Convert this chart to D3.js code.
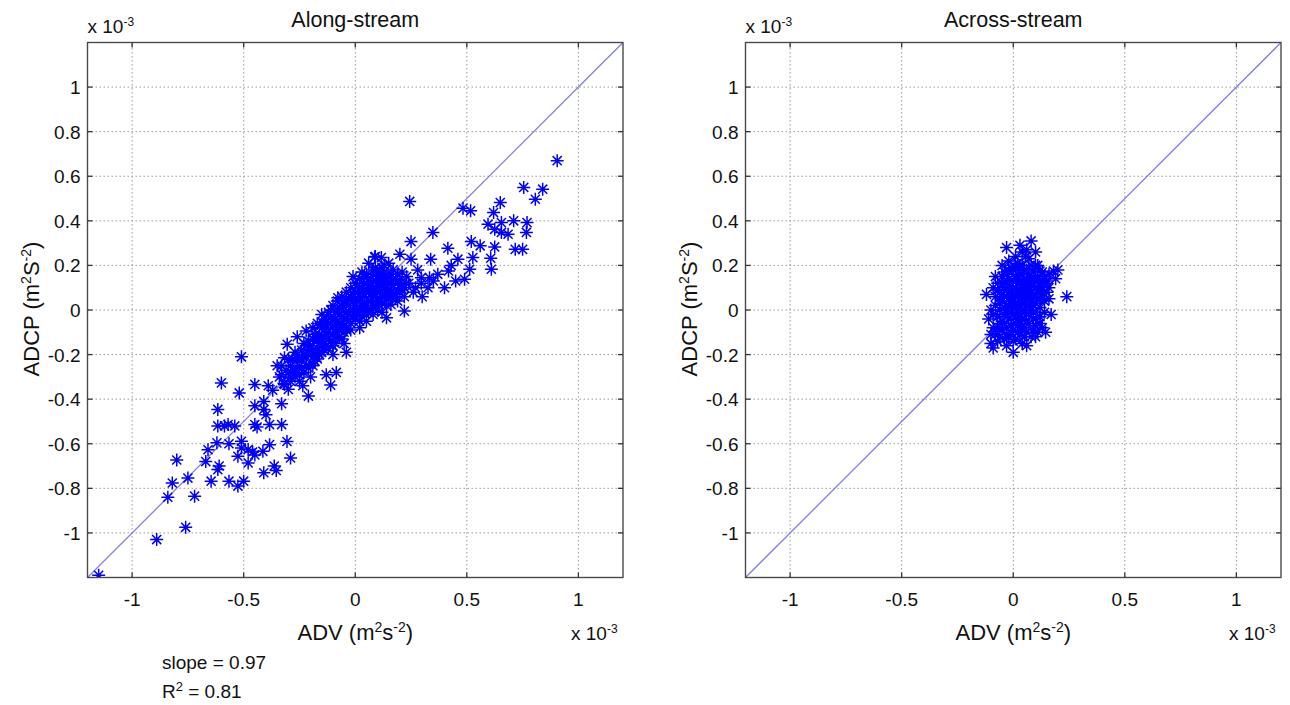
<!DOCTYPE html>
<html>
<head>
<meta charset="utf-8">
<script src="https://cdn.jsdelivr.net/npm/d3@7"></script>
<style>
  body { margin: 0; background: #fff; }
  text { font-family: "Liberation Sans", Arial, sans-serif; fill: #111; }
</style>
</head>
<body>
<svg width="1290" height="705"></svg>
<script>
// tick values / labels (units of 1e-3)
var xTicks = [-1, -0.5, 0, 0.5, 1];
var xTickLabels = ["-1", "-0.5", "0", "0.5", "1"];
var yTicks = [-1, -0.8, -0.6, -0.4, -0.2, 0, 0.2, 0.4, 0.6, 0.8, 1];
var yTickLabels = ["-1", "-0.8", "-0.6", "-0.4", "-0.2", "0", "0.2", "0.4", "0.6", "0.8", "1"];
var axisDomain = [-1.2, 1.2];
var oneToOne = [-1.2, 1.2];

var panelTitles = ["Along-stream", "Across-stream"];
var statsLines = ["slope = 0.97", "R2 = 0.81"];

// Along-stream: [ADV, ADCP] x 1e-3
var alongPoints = [
  [-1.15,-1.19],[-0.89,-1.03],[-0.76,-0.975],[-0.84,-0.84],[-0.72,-0.835],[-0.75,-0.754],[-0.82,-0.776],
  [-0.80,-0.673],[-0.67,-0.68],[-0.66,-0.627],[-0.616,-0.716],[-0.61,-0.70],[-0.646,-0.768],[-0.566,-0.768],
  [-0.526,-0.79],[-0.50,-0.768],[-0.41,-0.73],[-0.354,-0.72],[-0.363,-0.70],[-0.29,-0.664],[-0.306,-0.59],
  [-0.384,-0.604],[-0.414,-0.634],[-0.45,-0.65],[-0.48,-0.686],[-0.526,-0.656],[-0.51,-0.619],[-0.48,-0.626],
  [-0.46,-0.637],[-0.51,-0.589],[-0.566,-0.60],[-0.62,-0.596],[-0.616,-0.52],[-0.586,-0.52],[-0.57,-0.514],
  [-0.54,-0.52],[-0.616,-0.446],[-0.52,-0.372],[-0.60,-0.327],[-0.45,-0.43],[-0.45,-0.514],[-0.44,-0.525],
  [-0.41,-0.41],[-0.41,-0.446],[-0.40,-0.47],[-0.384,-0.514],[-0.33,-0.42],[-0.33,-0.514],[-0.45,-0.334],
  [-0.39,-0.34],[-0.317,-0.334],[-0.30,-0.356],[-0.235,-0.34],[-0.21,-0.386],[-0.11,-0.337],[-0.51,-0.21],
  [-0.305,-0.154],[-0.33,-0.29],[-0.317,-0.214],[-0.27,-0.23],[-0.257,-0.20],[-0.22,-0.094],[-0.18,-0.11],
  [-0.13,-0.29],[-0.085,-0.28],[-0.04,-0.19],[-0.16,-0.16],[-0.24,-0.26],[-0.29,-0.32],[-0.20,-0.30],
  [-0.26,-0.12],[-0.35,-0.25],[-0.28,-0.27],[-0.37,-0.36],[-0.25,-0.32],
  [-0.30,-0.28],[-0.28,-0.22],[-0.27,-0.30],[-0.25,-0.25],[-0.24,-0.18],[-0.23,-0.28],[-0.22,-0.21],
  [-0.21,-0.14],[-0.20,-0.24],[-0.19,-0.18],[-0.18,-0.12],[-0.17,-0.22],[-0.16,-0.15],[-0.15,-0.08],
  [-0.15,-0.19],[-0.14,-0.12],[-0.13,-0.05],[-0.13,-0.16],[-0.12,-0.10],[-0.11,-0.03],[-0.11,-0.14],
  [-0.10,-0.07],[-0.09,-0.01],[-0.09,-0.12],[-0.08,-0.05],[-0.07,0.01],[-0.07,-0.09],[-0.06,-0.03],
  [-0.05,0.03],[-0.05,-0.07],[-0.04,-0.01],[-0.03,0.05],[-0.03,-0.05],[-0.02,0.00],[-0.01,0.07],
  [-0.01,-0.03],[0.00,0.02],[0.01,0.08],[0.01,-0.02],[0.02,0.04],[0.03,0.10],[0.03,0.00],[0.04,0.06],
  [0.05,0.12],[0.05,0.02],[0.06,0.08],[0.07,0.14],[0.07,0.04],[0.08,0.10],[0.09,0.16],[0.09,0.06],
  [0.10,0.12],[0.11,0.18],[0.11,0.08],[0.12,0.14],[0.13,0.10],[0.14,0.16],[0.15,0.12],[0.17,0.18],
  [0.13,0.20],[0.02,-0.08],[0.05,-0.05],[0.08,-0.02],[0.10,0.00],[-0.05,-0.15],[-0.10,-0.20],[0.12,0.03],
  [0.15,0.05],[0.18,0.07],[0.20,0.08],
  [-0.20,-0.16],[-0.19,-0.08],[-0.18,-0.20],[-0.17,-0.06],[-0.16,-0.11],[-0.15,-0.02],[-0.14,-0.18],
  [-0.13,-0.08],[-0.12,-0.01],[-0.12,-0.13],[-0.11,-0.06],[-0.10,0.02],[-0.10,-0.16],[-0.09,-0.04],
  [-0.08,0.04],[-0.08,-0.10],[-0.07,-0.02],[-0.06,0.06],[-0.06,-0.13],[-0.05,0.00],[-0.04,0.08],
  [-0.04,-0.09],[-0.03,0.02],[-0.02,0.10],[-0.02,-0.06],[-0.01,0.04],[0.00,0.12],[0.00,-0.04],[0.01,0.00],
  [0.02,0.14],[0.02,0.06],[0.03,-0.03],[0.04,0.09],[0.04,0.02],[0.05,0.16],[0.06,0.04],[0.06,-0.01],
  [0.07,0.11],[0.08,0.18],[0.08,0.06],[0.09,0.01],[0.10,0.14],[0.10,0.09],[0.11,0.04],[0.12,0.19],
  [0.12,0.11],[0.13,0.06],[0.14,0.13],[0.15,0.09],[0.16,0.16],[0.17,0.11],[0.18,0.06],[0.18,0.14],
  [0.20,0.10],[0.21,0.17],[0.22,0.06],[0.24,0.12],[0.27,0.10],[0.06,0.21],[0.03,0.17],[-0.01,0.15],
  [0.15,0.21],[0.09,0.24],
  [-0.29,-0.25],[-0.27,-0.19],[-0.26,-0.27],[-0.24,-0.22],[-0.23,-0.15],[-0.22,-0.25],[-0.21,-0.19],
  [-0.19,-0.13],[-0.18,-0.23],[-0.17,-0.17],[-0.16,-0.07],[-0.15,-0.13],[-0.14,-0.04],[-0.13,-0.11],
  [-0.12,-0.06],[-0.11,0.00],[-0.10,-0.11],[-0.09,-0.07],[-0.08,-0.01],[-0.07,-0.06],[-0.06,0.02],
  [-0.05,-0.10],[-0.04,0.04],[-0.03,-0.02],[-0.02,0.06],[-0.01,0.00],[0.00,0.08],[0.01,0.04],[0.02,0.10],
  [0.03,0.02],[0.04,0.12],[0.05,0.08],[0.06,0.14],[0.07,0.00],[0.08,0.13],[0.09,0.09],[0.10,0.17],
  [0.11,0.12],[0.12,0.07],[0.13,0.15],[0.14,0.08],[0.16,0.12],[0.17,0.07],[0.19,0.12],[0.21,0.09],
  [0.23,0.15],
  [-0.34,-0.30],[-0.33,-0.25],[-0.32,-0.33],[-0.31,-0.27],[-0.30,-0.22],[-0.29,-0.30],[-0.26,-0.22],
  [-0.25,-0.29],[-0.23,-0.20],[-0.22,-0.16],[-0.21,-0.26],[-0.20,-0.20],[-0.19,-0.25],[-0.17,-0.13],
  [-0.16,-0.20],[-0.14,-0.15],[-0.12,-0.17],[-0.09,-0.15],[-0.07,-0.12],[-0.06,-0.08],[-0.04,-0.04],
  [-0.02,-0.09],[0.00,-0.01],[0.01,0.11],[0.02,-0.05],[0.04,0.15],[0.04,-0.01],[0.06,0.11],[0.07,0.07],
  [0.08,0.02],[0.09,0.19],[0.10,0.05],[0.11,0.15],[0.12,-0.01],[0.13,0.12],[0.14,0.02],[0.16,0.08],
  [0.17,0.14],[0.19,0.04],[0.20,0.13],[0.22,0.10],
  [0.905,0.67],[0.755,0.55],[0.84,0.542],[0.807,0.497],[0.244,0.487],[0.65,0.482],[0.62,0.437],
  [0.483,0.457],[0.517,0.445],[0.595,0.385],[0.655,0.392],[0.71,0.40],[0.77,0.392],[0.625,0.362],
  [0.655,0.348],[0.685,0.34],[0.767,0.348],[0.348,0.348],[0.25,0.307],[0.415,0.277],[0.52,0.307],
  [0.56,0.288],[0.625,0.283],[0.717,0.272],[0.75,0.272],[0.527,0.235],[0.607,0.232],[0.61,0.183],
  [0.46,0.228],[0.513,0.183],[0.49,0.138],[0.338,0.228],[0.418,0.175],[0.37,0.16],[0.333,0.145],
  [0.296,0.145],[0.326,0.10],[0.40,0.10],[0.296,0.12],[0.117,0.235],[0.20,0.25],[0.25,0.228],
  [-0.078,0.055],[0.22,-0.005],[0.14,-0.035],[0.16,0.025],[0.087,0.238],[0.19,0.16],[0.23,0.12],
  [0.26,0.08],[0.28,0.18],[0.30,0.06],[0.35,0.13],[0.45,0.13],[0.43,0.20]
];

// Across-stream: [ADV, ADCP] x 1e-3
var acrossPoints = [
  [-0.09,-0.17],[-0.11,-0.04],[0.18,0.175],[0.12,0.175],[-0.03,0.28],[0.03,0.29],[0.08,0.31],
  [0.055,0.24],[-0.055,0.06],[-0.03,-0.11],[0.10,-0.12],[0.145,-0.10],[0.00,-0.19],[0.24,0.06],
  [-0.12,0.07],[0.20,0.18],[-0.10,-0.15],[0.06,-0.16],[0.15,0.12],[0.16,0.05],[-0.08,0.15],
  [-0.05,0.20],[0.10,0.26],[0.04,0.26],[-0.02,0.22],[0.12,-0.06],[0.17,-0.02],[-0.07,-0.08],
  [-0.06,0.00],[-0.05,0.04],[-0.05,-0.05],[-0.04,0.10],[-0.04,-0.02],[-0.03,0.06],[-0.03,-0.08],
  [-0.02,0.02],[-0.02,0.14],[-0.02,-0.04],[-0.01,0.08],[-0.01,-0.10],[0.00,0.04],[0.00,0.18],
  [0.00,-0.02],[0.01,0.10],[0.01,-0.06],[0.02,0.00],[0.02,0.14],[0.02,0.06],[0.03,-0.03],[0.03,0.20],
  [0.03,0.09],[0.04,0.03],[0.04,-0.08],[0.04,0.16],[0.05,0.06],[0.05,-0.01],[0.05,0.12],[0.06,0.02],
  [0.06,0.09],[0.06,-0.05],[0.07,0.15],[0.07,0.05],[0.08,0.00],[0.08,0.11],[0.08,0.20],[0.09,0.07],
  [0.09,-0.04],[0.10,0.03],[0.10,0.14],[0.11,0.09],[0.12,0.01],[0.12,0.12],[0.13,0.06],[0.14,0.15],
  [0.14,-0.01],[-0.07,0.09],[-0.08,0.02],[-0.09,-0.02],[-0.06,-0.12],[0.00,-0.14],[0.05,-0.12],
  [0.09,-0.09],[-0.04,0.17],[0.01,0.24],[0.06,0.27],[0.11,0.20],[0.16,0.10],[0.19,0.14],[-0.01,0.03],
  [0.02,-0.10],
  [-0.06,0.03],[-0.05,0.12],[-0.04,0.06],[-0.03,0.00],[-0.03,0.12],[-0.02,0.08],[-0.01,-0.01],
  [-0.01,0.12],[0.00,0.07],[0.00,0.10],[0.01,0.02],[0.01,0.15],[0.02,0.09],[0.02,0.03],[0.03,0.05],
  [0.03,0.13],[0.04,0.00],[0.04,0.11],[0.05,0.03],[0.05,0.09],[0.06,0.13],[0.06,0.06],[0.07,0.02],
  [0.07,0.09],[0.08,0.04],[0.08,0.14],[0.09,0.11],[0.10,0.07],[0.11,0.05],[0.12,0.09],[0.13,0.12],
  [0.14,0.04],[0.15,0.08],[-0.07,-0.03],[-0.04,-0.06],[0.01,-0.03],[0.03,-0.06],[0.07,-0.02],
  [0.11,-0.03],[-0.02,0.18],[0.05,0.18],[0.09,0.17],[0.02,0.21],[0.07,0.23],
  [-0.08,0.06],[-0.07,0.12],[-0.06,0.08],[-0.06,-0.06],[-0.05,0.15],[-0.04,0.01],[-0.03,0.09],
  [-0.03,0.16],[-0.02,-0.01],[-0.01,0.06],[-0.01,0.19],[0.00,0.01],[0.00,0.13],[0.01,0.06],[0.01,0.19],
  [0.02,0.12],[0.02,-0.04],[0.03,0.02],[0.03,0.16],[0.04,0.06],[0.04,0.20],[0.05,0.00],[0.05,0.14],
  [0.06,0.11],[0.06,0.18],[0.07,0.07],[0.07,0.12],[0.08,0.08],[0.09,0.02],[0.09,0.14],[0.10,0.10],
  [0.10,0.20],[0.11,0.14],[0.12,0.05],[0.13,0.09],[0.13,0.17],[0.15,0.13],[0.16,0.16],[-0.09,0.10],
  [-0.10,0.00],
  [-0.08,-0.11],[-0.07,-0.14],[-0.05,-0.09],[-0.04,-0.13],[-0.02,-0.12],[-0.01,-0.07],[0.00,-0.09],
  [0.01,-0.13],[0.02,-0.07],[0.03,-0.11],[0.04,-0.04],[0.05,-0.08],[0.06,-0.10],[0.07,-0.06],
  [0.08,-0.12],[0.09,-0.01],[0.10,-0.07],[0.11,-0.10],[0.12,-0.03],[0.13,-0.08],[-0.09,-0.08],
  [-0.10,-0.11],[0.04,-0.15],[-0.03,-0.16]
];

var svg = d3.select("svg");

// MATLAB style '*' marker
function starPath(r) {
  var d = r * 0.7;
  return "M" + (-r) + ",0H" + r + "M0," + (-r) + "V" + r +
    "M" + (-d) + "," + (-d) + "L" + d + "," + d +
    "M" + (-d) + "," + d + "L" + d + "," + (-d);
}

// text with superscripts: parts = [[str, isSup], ...]
function richText(sel, parts, supSize) {
  parts.forEach(function (p) {
    var t = sel.append("tspan").text(p[0]);
    if (p[1]) {
      t.attr("font-size", supSize).attr("baseline-shift", "super");
    }
  });
  return sel;
}

function drawPanel(left, right, points, title, idx) {
  var x = d3.scaleLinear().domain(axisDomain).range([left, right]);
  var y = d3.scaleLinear().domain(axisDomain).range([577.5, 42.5]);
  var g = svg.append("g");
  var clipId = "clip" + idx;

  g.append("clipPath").attr("id", clipId)
    .append("rect")
    .attr("x", left).attr("y", 42.5)
    .attr("width", right - left).attr("height", 535);

  // grid
  g.selectAll(".gx").data(xTicks).enter().append("line")
    .attr("x1", d => x(d)).attr("x2", d => x(d))
    .attr("y1", y(axisDomain[0])).attr("y2", y(axisDomain[1]))
    .attr("stroke", "#9a9a9a").attr("stroke-width", 1)
    .attr("stroke-dasharray", "1.5,2.5");
  g.selectAll(".gy").data(yTicks).enter().append("line")
    .attr("y1", d => y(d)).attr("y2", d => y(d))
    .attr("x1", left).attr("x2", right)
    .attr("stroke", "#9a9a9a").attr("stroke-width", 1)
    .attr("stroke-dasharray", "1.5,2.5");

  // 1:1 line
  g.append("line")
    .attr("clip-path", "url(#" + clipId + ")")
    .attr("x1", x(oneToOne[0])).attr("y1", y(oneToOne[0]))
    .attr("x2", x(oneToOne[1])).attr("y2", y(oneToOne[1]))
    .attr("stroke", "#8080e8").attr("stroke-width", 1.3);

  // points
  g.append("g").attr("clip-path", "url(#" + clipId + ")")
    .selectAll("path").data(points).enter().append("path")
    .attr("transform", d => "translate(" + x(d[0]) + "," + y(d[1]) + ")")
    .attr("d", starPath(6.5))
    .attr("fill", "none").attr("stroke", "#0000ff").attr("stroke-width", 1.5);

  // box
  g.append("rect")
    .attr("x", left).attr("y", 42.5)
    .attr("width", right - left).attr("height", 535)
    .attr("fill", "none").attr("stroke", "#4a4a4a").attr("stroke-width", 1.4);

  // inward ticks on all sides
  var tl = 5;
  xTicks.forEach(function (t) {
    g.append("line").attr("x1", x(t)).attr("x2", x(t)).attr("y1", 577.5).attr("y2", 577.5 - tl)
      .attr("stroke", "#333").attr("stroke-width", 1.3);
    g.append("line").attr("x1", x(t)).attr("x2", x(t)).attr("y1", 42.5).attr("y2", 42.5 + tl)
      .attr("stroke", "#333").attr("stroke-width", 1.3);
  });
  yTicks.forEach(function (t) {
    g.append("line").attr("y1", y(t)).attr("y2", y(t)).attr("x1", left).attr("x2", left + tl)
      .attr("stroke", "#333").attr("stroke-width", 1.3);
    g.append("line").attr("y1", y(t)).attr("y2", y(t)).attr("x1", right).attr("x2", right - tl)
      .attr("stroke", "#333").attr("stroke-width", 1.3);
  });

  // tick labels
  g.selectAll(".xl").data(xTicks).enter().append("text")
    .attr("x", d => x(d)).attr("y", 606)
    .attr("text-anchor", "middle").attr("font-size", 19)
    .text((d, i) => xTickLabels[i]);
  g.selectAll(".yl").data(yTicks).enter().append("text")
    .attr("x", left - 7).attr("y", d => y(d) + 7)
    .attr("text-anchor", "end").attr("font-size", 19)
    .text((d, i) => yTickLabels[i]);

  // title
  g.append("text").attr("x", (left + right) / 2).attr("y", 27)
    .attr("text-anchor", "middle").attr("font-size", 21.5).text(title);

  // exponent labels
  richText(g.append("text").attr("x", left).attr("y", 33).attr("font-size", 19),
    [["x 10", false], ["-3", true]], 12);
  richText(g.append("text").attr("x", right - 52).attr("y", 640).attr("font-size", 19),
    [["x 10", false], ["-3", true]], 12);

  // axis labels
  richText(g.append("text").attr("x", (left + right) / 2).attr("y", 640)
    .attr("text-anchor", "middle").attr("font-size", 22),
    [["ADV (m", false], ["2", true], ["s", false], ["-2", true], [")", false]], 14);
  richText(g.append("text")
    .attr("transform", "translate(" + (left - 49) + ",309) rotate(-90)")
    .attr("text-anchor", "middle").attr("font-size", 22),
    [["ADCP (m", false], ["2", true], ["S", false], ["-2", true], [")", false]], 14);

  return g;
}

var g1 = drawPanel(87.5, 623, alongPoints, panelTitles[0], 0);
drawPanel(745.5, 1281, acrossPoints, panelTitles[1], 1);

// regression stats under the left panel
g1.append("text").attr("x", 162).attr("y", 669).attr("font-size", 19).text(statsLines[0]);
richText(g1.append("text").attr("x", 162).attr("y", 698).attr("font-size", 19),
  [["R", false], ["2", true], [statsLines[1].slice(2), false]], 13);
</script>
</body>
</html>
